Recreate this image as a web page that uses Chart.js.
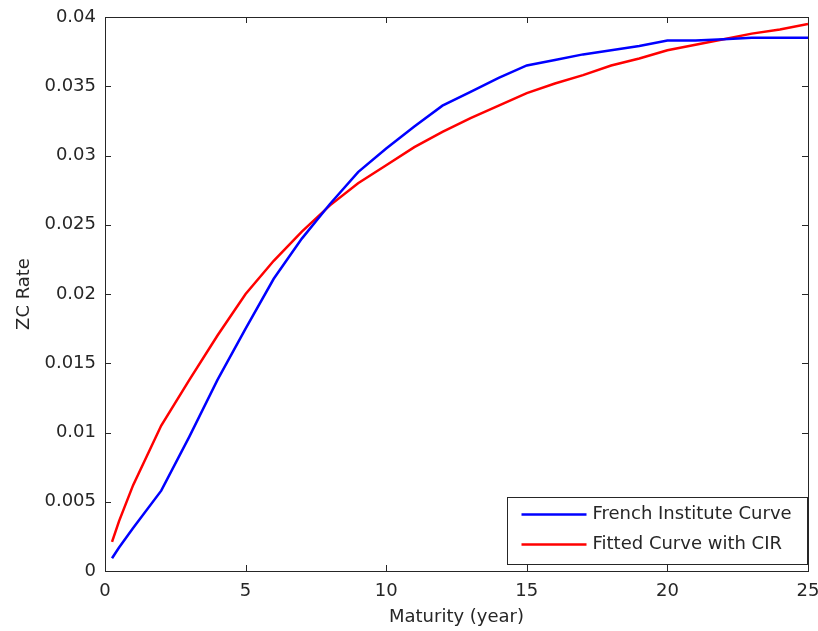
<!DOCTYPE html>
<html>
<head>
<meta charset="utf-8">
<script src="https://cdn.jsdelivr.net/npm/chart.js@4.4.1/dist/chart.umd.min.js"></script>
<style>
  body { margin: 0; background: #fff; }
  #wrap { width: 818px; height: 631px; }
</style>
</head>
<body>
<div id="wrap"><canvas id="zcChart" width="818" height="631"></canvas></div>
<script>
Chart.defaults.font.family = "DejaVu Sans";
Chart.defaults.font.size = 17;
Chart.defaults.color = '#262626';

// Maturities in years
const maturity = [0.25, 0.5, 1, 2, 3, 4, 5, 6, 7, 8, 9, 10, 11, 12, 13, 14, 15, 16, 17, 18, 19, 20, 21, 22, 23, 24, 25];

// French Institute zero coupon curve
const frenchRates = [0.00092, 0.0017, 0.0031, 0.0058, 0.0097, 0.0138, 0.0175, 0.0211, 0.0240, 0.0265, 0.0288, 0.0305,
                     0.0321, 0.0336, 0.0346, 0.0356, 0.0365, 0.0369, 0.0373, 0.0376, 0.0379, 0.0383, 0.0383, 0.0384, 0.0385, 0.0385, 0.0385];

// CIR fitted curve
const cirRates = [0.0021, 0.0036, 0.0062, 0.0105, 0.0138, 0.0170, 0.0200, 0.0224, 0.0245, 0.0264, 0.0280, 0.0293,
                  0.0306, 0.0317, 0.0327, 0.0336, 0.0345, 0.0352, 0.0358, 0.0365, 0.0370, 0.0376, 0.0380, 0.0384, 0.0388, 0.0391, 0.0395];

const seriesLabels = ['French Institute Curve', 'Fitted Curve with CIR'];
const seriesColors = ['#0000ff', '#ff0000'];

function toPoints(xs, ys) {
    return xs.map((x, i) => ({x: x, y: ys[i]}));
}

// box + inward ticks on all four sides, like matlab
const boxTicks = {
    id: 'boxTicks',
    afterDatasetsDraw(chart) {
        const {ctx, chartArea: a, scales} = chart;
        const len = 6;
        ctx.save();
        ctx.strokeStyle = '#262626';
        ctx.lineWidth = 1;
        ctx.beginPath();
        scales.x.ticks.forEach(t => {
            const px = Math.round(scales.x.getPixelForValue(t.value)) + 0.5;
            ctx.moveTo(px, a.bottom); ctx.lineTo(px, a.bottom - len);
            ctx.moveTo(px, a.top); ctx.lineTo(px, a.top + len);
        });
        scales.y.ticks.forEach(t => {
            const py = Math.round(scales.y.getPixelForValue(t.value)) + 0.5;
            ctx.moveTo(a.left, py); ctx.lineTo(a.left + len, py);
            ctx.moveTo(a.right, py); ctx.lineTo(a.right - len, py);
        });
        ctx.stroke();
        ctx.strokeRect(Math.round(a.left) + 0.5, Math.round(a.top) + 0.5,
                       Math.round(a.right - a.left), Math.round(a.bottom - a.top));
        ctx.restore();
    }
};

// legend box in the lower right corner
const innerLegend = {
    id: 'innerLegend',
    afterDraw(chart) {
        const {ctx, chartArea: a} = chart;
        const w = 300, h = 67;
        const x0 = Math.round(a.right) - 1 - w + 0.5;
        const y0 = Math.round(a.bottom) - 7 - h + 0.5;
        ctx.save();
        ctx.fillStyle = '#fff';
        ctx.fillRect(x0, y0, w, h);
        ctx.strokeStyle = '#262626';
        ctx.lineWidth = 1;
        ctx.strokeRect(x0, y0, w, h);
        ctx.font = '18px "DejaVu Sans"';
        ctx.textBaseline = 'middle';
        chart.data.datasets.forEach((ds, i) => {
            const ly = y0 + 17 + i * 30;
            ctx.strokeStyle = ds.borderColor;
            ctx.lineWidth = 2.5;
            ctx.beginPath();
            ctx.moveTo(x0 + 14, ly);
            ctx.lineTo(x0 + 79, ly);
            ctx.stroke();
            ctx.fillStyle = '#262626';
            ctx.fillText(ds.label, x0 + 85, ly);
        });
        ctx.restore();
    }
};

const ctx = document.getElementById('zcChart').getContext('2d');

const zcChart = new Chart(ctx, {
    type: 'line',
    data: {
        datasets: [
            {
                label: seriesLabels[0],
                data: toPoints(maturity, frenchRates),
                borderColor: seriesColors[0],
                backgroundColor: seriesColors[0],
                borderWidth: 2.5,
                pointRadius: 0,
                tension: 0
            },
            {
                label: seriesLabels[1],
                data: toPoints(maturity, cirRates),
                borderColor: seriesColors[1],
                backgroundColor: seriesColors[1],
                borderWidth: 2.5,
                pointRadius: 0,
                tension: 0
            }
        ]
    },
    options: {
        responsive: false,
        animation: false,
        layout: {
            padding: {top: 17, right: 10, left: 0, bottom: 0}
        },
        plugins: {
            legend: {display: false},
            tooltip: {enabled: false}
        },
        scales: {
            x: {
                type: 'linear',
                min: 0,
                max: 25,
                grid: {display: false, drawTicks: false},
                border: {display: false},
                ticks: {stepSize: 5, padding: 10, font: {size: 18}, maxRotation: 0},
                title: {display: true, text: 'Maturity (year)', font: {size: 18}, padding: {top: 0, bottom: 3}},
                afterFit(scale) {
                    scale.height = 60;
                    scale.paddingLeft = 0;
                    scale.paddingRight = 0;
                }
            },
            y: {
                min: 0,
                max: 0.04,
                grid: {display: false, drawTicks: false},
                border: {display: false},
                ticks: {
                    stepSize: 0.005,
                    padding: 9,
                    font: {size: 18},
                    callback: v => String(+v.toFixed(3))
                },
                title: {display: true, text: 'ZC Rate', font: {size: 18}, padding: {top: 14, bottom: 0}},
                afterFit(scale) {
                    scale.width = 105;
                    scale.paddingTop = 0;
                    scale.paddingBottom = 0;
                }
            }
        }
    },
    plugins: [boxTicks, innerLegend]
});
</script>
</body>
</html>
